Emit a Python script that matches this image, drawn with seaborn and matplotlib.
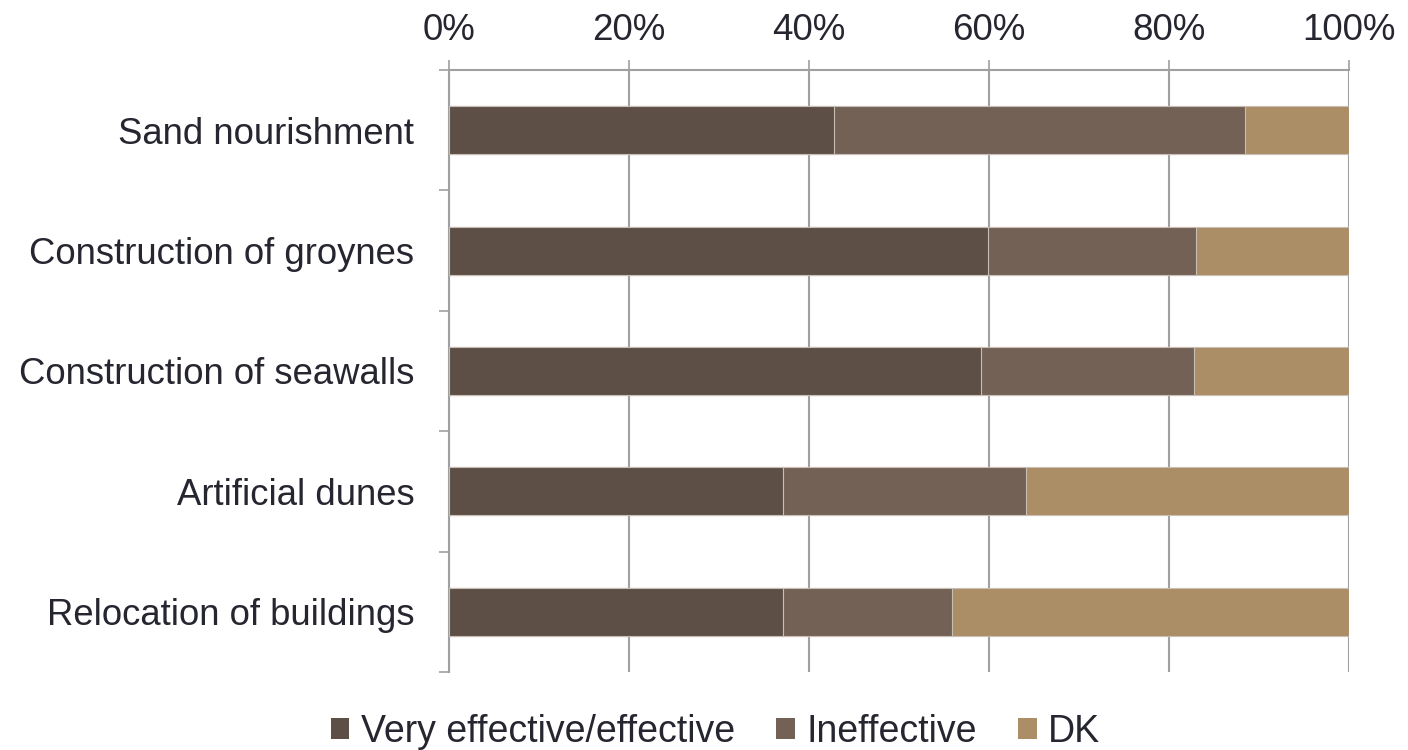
import matplotlib
matplotlib.use("Agg")
import matplotlib.pyplot as plt
import seaborn as sns
import numpy as np
from matplotlib.patches import Patch
from matplotlib.ticker import FixedLocator, PercentFormatter

categories = ["Sand nourishment", "Construction of groynes", "Construction of seawalls",
              "Artificial dunes", "Relocation of buildings"]
effective = [42.8, 59.9, 59.1, 37.1, 37.1]
ineffective = [45.6, 23.1, 23.7, 27.0, 18.8]
dk = [11.6, 17.0, 17.2, 35.9, 44.1]
series_names = ["Very effective/effective", "Ineffective", "DK"]
colors = ["#5D4F45", "#736156", "#AC8E66"]
xticks = [0, 20, 40, 60, 80, 100]

sns.set_theme(style="white")
plt.rcParams['font.family'] = ['Liberation Sans', 'DejaVu Sans']
text_color = "#262630"
grid_color = "#A0A0A0"

fig = plt.figure(figsize=(14.08, 7.5), dpi=100)
ax = fig.add_axes([449/1408, 1-672/750, 900/1408, 602/750])

c1 = np.array(effective)
c2 = c1 + np.array(ineffective)
c3 = c2 + np.array(dk)
edge = "#C8BEB6"
for vals, col in [(c3, colors[2]), (c2, colors[1]), (c1, colors[0])]:
    sns.barplot(x=vals, y=categories, orient="h", color=col, width=0.4,
                edgecolor=edge, linewidth=0.8, saturation=1, ax=ax, zorder=3)

ax.set_xlim(0, 100)
ax.set_ylim(4.5, -0.5)
ax.xaxis.tick_top()
ax.set_xticks(xticks)
ax.xaxis.set_major_formatter(PercentFormatter(decimals=0))
ax.tick_params(axis="x", which="major", length=7.2, width=1.2, color=grid_color,
               labelsize=26.5, labelcolor=text_color, pad=9, direction="out")
ax.tick_params(axis="y", which="major", length=0, labelsize=26.3, labelcolor=text_color, pad=25)
ax.yaxis.set_minor_locator(FixedLocator(np.arange(-0.5, 5, 1)))
ax.tick_params(axis="y", which="minor", length=7.2, width=1.2, color=grid_color, left=True)
ax.set_xlabel("")
ax.set_ylabel("")
ax.grid(axis="x", color=grid_color, linewidth=1.5, zorder=0)
ax.set_axisbelow(True)
for s in ["right", "bottom"]:
    ax.spines[s].set_visible(False)
for s in ["left", "top"]:
    ax.spines[s].set_visible(True)
    ax.spines[s].set_color(grid_color)
    ax.spines[s].set_linewidth(1.5)

handles = [Patch(facecolor=c, edgecolor="none") for c in colors]
fig.legend(handles, series_names, loc="lower center", bbox_to_anchor=(0.508, -0.045),
           ncol=3, frameon=False, fontsize=27, handlelength=0.5, handleheight=0.5,
           handletextpad=0.3, columnspacing=1.1, labelcolor=text_color)

fig.savefig("out.png", dpi=100, facecolor="white")
